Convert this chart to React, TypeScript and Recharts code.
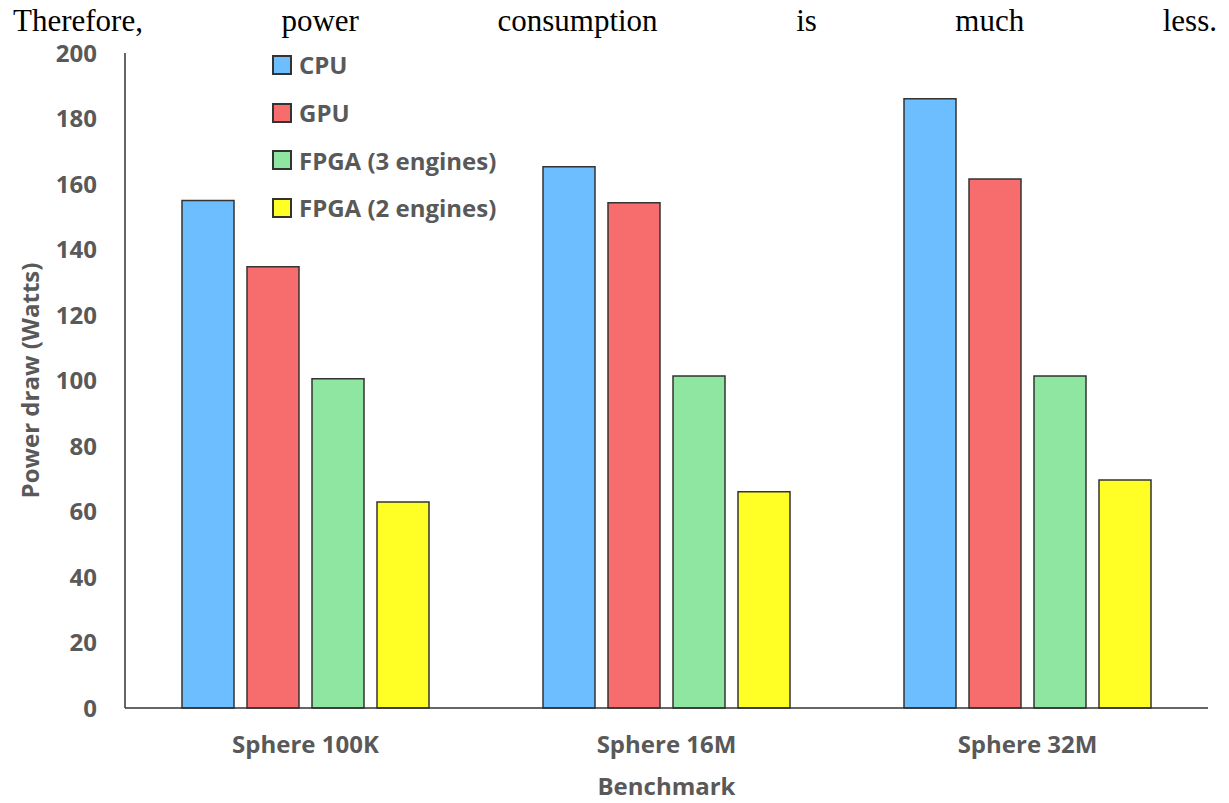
import { Bar, BarChart, Label, XAxis, YAxis } from 'recharts'

const categories = ['Sphere 100K', 'Sphere 16M', 'Sphere 32M']
const cpuWatts = [155, 165.3, 186]
const gpuWatts = [134.7, 154.3, 161.5]
const fpga3Watts = [100.5, 101.4, 101.4]
const fpga2Watts = [62.9, 66, 69.6]
const yTicks = [0, 20, 40, 60, 80, 100, 120, 140, 160, 180, 200]
const sentence = ['Therefore,', 'power', 'consumption', 'is', 'much', 'less.']

const series = [
  { key: 'cpu', name: 'CPU', color: '#6dbeff' },
  { key: 'gpu', name: 'GPU', color: '#f76c6c' },
  { key: 'fpga3', name: 'FPGA (3 engines)', color: '#8ee6a1' },
  { key: 'fpga2', name: 'FPGA (2 engines)', color: '#ffff26' },
]

const data = categories.map((name, i) => ({
  name,
  cpu: cpuWatts[i],
  gpu: gpuWatts[i],
  fpga3: fpga3Watts[i],
  fpga2: fpga2Watts[i],
}))

const textGray = '#595959'
const font = "'Open Sans', sans-serif"
const tickStyle = { fill: textGray, fontSize: 24, fontWeight: 700, fontFamily: font }

// legend sits inside the plot, top-left, so it is drawn over the chart
function LegendBox() {
  return (
    <div
      style={{
        position: 'absolute',
        left: 272,
        top: 41,
        fontFamily: font,
        fontWeight: 700,
        fontSize: 24,
        color: textGray,
        zIndex: 1,
      }}
    >
      {series.map((s) => (
        <div
          key={s.key}
          style={{ display: 'flex', alignItems: 'center', height: 47.7 }}
        >
          <span
            style={{
              width: 16,
              height: 16,
              background: s.color,
              border: '2px solid #333',
              marginRight: 7,
            }}
          />
          <span>{s.name}</span>
        </div>
      ))}
    </div>
  )
}

export default function App() {
  return (
    <div
      style={{
        position: 'absolute',
        left: 0,
        top: 0,
        width: 1229,
        height: 803,
        background: '#fff',
      }}
    >
      <div
        style={{
          position: 'absolute',
          left: 13,
          top: 8,
          width: 1204,
          display: 'flex',
          justifyContent: 'space-between',
          fontFamily: "'Liberation Serif', 'Times New Roman', serif",
          fontSize: 31,
          lineHeight: '26px',
          color: '#000',
          zIndex: 1,
        }}
      >
        {sentence.map((w) => (
          <span key={w}>{w}</span>
        ))}
      </div>
      <LegendBox />
      <BarChart
        width={1229}
        height={803}
        data={data}
        margin={{ top: 53, right: 21, bottom: 0, left: 0 }}
        barSize={52}
        barGap={13}
      >
        <XAxis
          dataKey='name'
          height={95}
          stroke='#333'
          strokeWidth={1.5}
          tickLine={false}
          tickSize={0}
          tickMargin={28}
          tick={tickStyle}
        >
          <Label
            value='Benchmark'
            position='insideBottom'
            offset={8}
            style={tickStyle}
          />
        </XAxis>
        <YAxis
          width={125}
          domain={[0, 200]}
          ticks={yTicks}
          interval={0}
          stroke='#333'
          strokeWidth={1.5}
          tickLine={false}
          tickSize={0}
          tickMargin={28}
          tick={tickStyle}
        >
          <Label
            value='Power draw (Watts)'
            angle={-90}
            position='insideLeft'
            offset={30}
            style={{ ...tickStyle, textAnchor: 'middle' }}
          />
        </YAxis>
        {series.map((s) => (
          <Bar
            key={s.key}
            dataKey={s.key}
            name={s.name}
            fill={s.color}
            stroke='#333'
            strokeWidth={1.5}
            isAnimationActive={false}
          />
        ))}
      </BarChart>
    </div>
  )
}
